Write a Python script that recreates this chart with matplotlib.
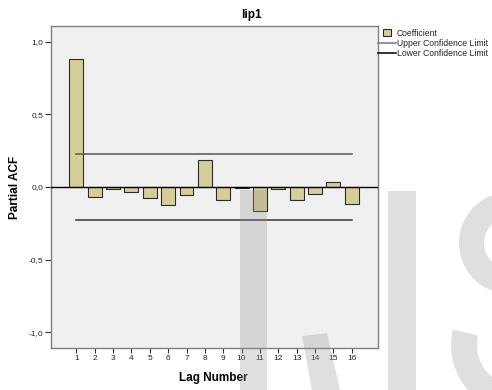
import matplotlib
matplotlib.use('Agg')
import matplotlib.pyplot as plt
from matplotlib.patches import Rectangle, Wedge, Polygon
from matplotlib.lines import Line2D
import matplotlib.transforms as mtransforms

plt.rcParams['font.family'] = ['Liberation Sans', 'DejaVu Sans']

# ---- data ----
lags = list(range(1, 17))
pacf = [0.879, -0.069, -0.014, -0.034, -0.073, -0.124, -0.057, 0.186,
        -0.089, -0.005, -0.163, -0.014, -0.087, -0.048, 0.037, -0.115]
upper_conf = 0.227
lower_conf = -0.227
yticks = [-1.0, -0.5, 0.0, 0.5, 1.0]
ytick_labels = ['-1,0', '-0,5', '0,0', '0,5', '1,0']
title = 'lip1'
xlabel = 'Lag Number'
ylabel = 'Partial ACF'
legend_labels = ['Coefficient', 'Upper Confidence Limit', 'Lower Confidence Limit']

W, H = 492, 390
fig = plt.figure(figsize=(W / 100, H / 100), dpi=100)
pix = mtransforms.Affine2D().scale(1 / W, -1 / H).translate(0, 1) + fig.transFigure

ax = fig.add_axes([51 / W, 1 - 348 / H, (378 - 51) / W, (348 - 26) / H])
ax.set_facecolor('#f0f0f0')
bar_color = '#d4ce98'
ax.bar(lags, pacf, width=0.76, color=bar_color, edgecolor='#2b2b2b', linewidth=0.8, zorder=3)
ax.axhline(0, color='black', lw=1.0, zorder=4)
ax.plot([lags[0], lags[-1]], [upper_conf] * 2, color='#555555', lw=1.1, zorder=4)
ax.plot([lags[0], lags[-1]], [lower_conf] * 2, color='#333333', lw=1.1, zorder=4)
ax.set_xlim(-0.38, 17.43)
ax.set_ylim(-1.108, 1.108)
ax.set_xticks(lags)
ax.set_xticklabels([str(l) for l in lags])
ax.set_yticks(yticks)
ax.set_yticklabels(ytick_labels)
ax.tick_params(axis='both', labelsize=6, colors='#333333', labelcolor='#222222',
               length=3.5, width=0.8, pad=1.5)
ax.tick_params(axis='y', length=4)
for sp in ax.spines.values():
    sp.set_color('#808080')
    sp.set_linewidth(1.0)

# texts
fig.text(251, 15, title, transform=pix, ha='center', va='center', fontsize=8.5, fontweight='bold')
fig.text(213.5, 378, xlabel, transform=pix, ha='center', va='center', fontsize=8.5, fontweight='bold')
fig.text(15, 187, ylabel, transform=pix, ha='center', va='center', rotation=90,
         fontsize=8.5, fontweight='bold')

# legend
fig.add_artist(Rectangle((383, 29), 8, 7, transform=pix, facecolor=bar_color,
                         edgecolor='#2b2b2b', linewidth=0.8))
fig.add_artist(Line2D([378, 396], [43, 43], transform=pix, color='#808080', lw=1.2))
fig.add_artist(Line2D([378, 396], [53, 53], transform=pix, color='#111111', lw=1.2))
for yy, lab in zip([33, 43, 53], legend_labels):
    fig.text(397, yy, lab, transform=pix, ha='left', va='center', fontsize=6.2, color='#222222')

# watermark
wm = dict(transform=pix, facecolor=(0.59, 0.59, 0.59), alpha=0.3, edgecolor='none', zorder=10)
fig.add_artist(Rectangle((240, 190), 27, 200, **wm))
fig.add_artist(Rectangle((388, 191), 28, 199, **wm))
fig.add_artist(Polygon([(302, 336), (327, 333), (340, 390), (312, 390)], closed=True, **wm))
fig.add_artist(Wedge((510, 243), 51, 90, 270, width=25, **wm))
fig.add_artist(Wedge((519, 345), 68, 90, 193, width=26, **wm))

fig.savefig('out.png', dpi=100)
